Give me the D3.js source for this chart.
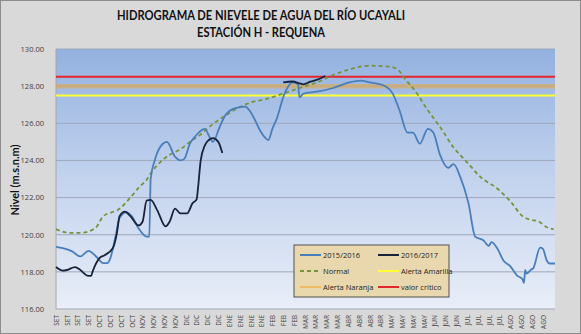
<!DOCTYPE html>
<html><head><meta charset="utf-8">
<script src="https://cdn.jsdelivr.net/npm/d3@7"></script>
<style>body{margin:0;background:#fff}svg{display:block}</style>
</head><body>
<svg id="c" width="581" height="334"></svg>
<script>
// ---- data ----
const tickLabels = ["SET","SET","SET","SET","OCT","OCT","OCT","OCT","NOV","NOV","NOV","NOV","DIC","DIC","DIC","DIC","ENE","ENE","ENE","ENE","FEB","FEB","FEB","MAR","MAR","MAR","MAR","ABR","ABR","ABR","ABR","MAY","MAY","MAY","MAY","JUN","JUN","JUN","JUL","JUL","JUL","JUL","AGO","AGO","AGO","AGO"];
const tickDays = d3.range(0, 361, 8);
const yTicks = [116,118,120,122,124,126,128,130];

const serie2015 = [[0,119.35],[5,119.28],[12,119.1],[18,118.83],[24,119.13],[30,118.8],[35,118.47],[38,118.47],[40,118.7],[44,119.9],[47,120.9],[52,121.2],[56,121.0],[61,120.35],[67,119.9],[69,119.9],[70,123.0],[73,124.0],[79,124.9],[82,125.0],[88,124.2],[92,124.0],[95,124.1],[99,124.9],[103,125.3],[110,125.7],[114,125.2],[116,125.0],[121,125.8],[125,126.4],[132,126.8],[140,126.9],[143,126.7],[147,126.2],[151,125.6],[155,125.2],[157,125.1],[160,125.7],[163,126.2],[169,127.6],[175,128.2],[179,128.1],[180,127.4],[183,127.6],[193,127.7],[205,127.9],[217,128.2],[225,128.3],[232,128.2],[242,128.05],[249,127.6],[254,126.7],[260,125.5],[264,125.5],[269,124.9],[275,125.7],[279,125.5],[284,124.3],[290,123.6],[294,123.8],[299,123.1],[305,121.7],[310,119.9],[316,119.7],[320,119.4],[322,119.6],[326,119.3],[331,118.6],[336,118.3],[341,117.8],[345,117.6],[346,117.4],[347,118.1],[348,117.9],[351,118.1],[353,118.2],[358,119.3],[360,119.25],[363,118.6],[365,118.45],[369,118.45]];
const serie2016a = [[0,118.26],[5,118.07],[8,118.1],[14,118.26],[18,118.1],[23,117.8],[26,117.78],[27,118.0],[32,118.73],[36,118.9],[42,119.27],[45,120.07],[47,121.0],[51,121.24],[55,121.0],[61,120.5],[64,120.7],[67,121.84],[70,121.88],[75,121.3],[81,120.45],[84,120.7],[88,121.4],[92,121.15],[97,121.15],[101,121.7],[104,121.9],[105,122.5],[107,124.0],[110,124.8],[113,125.1],[116,125.2],[120,125.0],[123,124.4]];
const serie2016b = [[168,128.2],[175,128.25],[180,128.15],[183,128.1],[188,128.24],[195,128.4],[199,128.55]];
const normal = [[0,120.3],[10,120.1],[18,120.1],[29,120.35],[35,121.0],[41,121.2],[45,121.3],[55,122.0],[62,122.6],[67,122.95],[70,123.3],[77,123.9],[84,124.3],[92,124.6],[99,125.0],[107,125.4],[115,125.9],[125,126.4],[134,126.8],[143,127.1],[155,127.3],[168,127.6],[180,127.9],[193,128.2],[205,128.6],[217,128.9],[232,129.1],[247,129.05],[254,128.8],[257,128.5],[267,127.6],[274,126.8],[279,126.3],[284,125.8],[294,124.7],[304,123.9],[314,123.1],[326,122.5],[336,121.8],[345,121.0],[351,120.8],[356,120.75],[363,120.4],[368,120.3]];
const alertaAmarilla = 127.5;
const alertaNaranja = 128.0;
const valorCritico = 128.5;

// ---- chart ----
const svg = d3.select("#c");
const W = 581, H = 334;
const L = 56, R = 555, T = 49, B = 309;

svg.append("rect").attr("x",0.5).attr("y",0.5).attr("width",W-1).attr("height",H-1)
  .attr("fill","#d9d9d9").attr("stroke","#8c8c8c");

const defs = svg.append("defs");
const g = defs.append("linearGradient").attr("id","bg").attr("x1",0).attr("y1",0).attr("x2",0).attr("y2",1);
g.append("stop").attr("offset","0%").attr("stop-color","#93b1e0");
g.append("stop").attr("offset","50%").attr("stop-color","#c3d3ee");
g.append("stop").attr("offset","100%").attr("stop-color","#e9eef8");

const x = d3.scaleLinear().domain([0,369]).range([L,R]);
const y = d3.scaleLinear().domain([116,130]).range([B,T]);

svg.append("rect").attr("x",L).attr("y",T).attr("width",R-L).attr("height",B-T).attr("fill","url(#bg)");

// grid
svg.append("g").selectAll("line").data(yTicks).join("line")
  .attr("x1",L).attr("x2",R).attr("y1",d=>y(d)).attr("y2",d=>y(d))
  .attr("stroke","#9ea8ba").attr("stroke-width",1);

// left axis line
svg.append("line").attr("x1",L).attr("x2",L).attr("y1",T).attr("y2",B).attr("stroke","#a6a6a6");

// y axis
const ya = svg.append("g").attr("transform",`translate(${L-9},0)`)
  .call(d3.axisLeft(y).tickValues(yTicks).tickFormat(d3.format(".2f")).tickSize(0));
ya.select(".domain").remove();
ya.selectAll("text").attr("font-family","'Open Sans',sans-serif").attr("font-size",7.5).attr("fill","#404040");

// x axis
const xa = svg.append("g").attr("transform",`translate(0,${B})`)
  .call(d3.axisBottom(x).tickValues(tickDays).tickFormat((d,i)=>tickLabels[i]).tickSize(0));
xa.select(".domain").remove();
xa.selectAll("text").attr("font-family","'Open Sans',sans-serif").attr("font-size",6.5).attr("fill","#404040")
  .attr("text-anchor","end").attr("dy","0.35em").attr("dx",0)
  .attr("transform","translate(0,6) rotate(-90)").attr("x",0).attr("y",0);

// threshold lines
function hline(v, color, w, op){
  svg.append("line").attr("x1",L).attr("x2",R).attr("y1",y(v)).attr("y2",y(v))
    .attr("stroke",color).attr("stroke-width",w).attr("stroke-opacity",op||1);
}
hline(alertaNaranja, "#f0a830", 4.5, 0.5);
hline(alertaAmarilla, "#ffff33", 2);
hline(valorCritico, "#e3262c", 2);

const line = d3.line().x(d=>x(d[0])).y(d=>y(d[1])).curve(d3.curveMonotoneX);
svg.append("path").datum(normal).attr("d",line).attr("fill","none")
  .attr("stroke","#77933c").attr("stroke-width",1.8).attr("stroke-dasharray","4,3");
svg.append("path").datum(serie2015).attr("d",line).attr("fill","none")
  .attr("stroke","#4a7ebb").attr("stroke-width",1.8);
[serie2016a, serie2016b].forEach(s=>{
  svg.append("path").datum(s).attr("d",line).attr("fill","none")
    .attr("stroke","#17233a").attr("stroke-width",1.8);
});

// titles
const tf = "Lato, 'Open Sans', sans-serif";
svg.append("text").attr("x",261).attr("y",20).attr("text-anchor","middle")
  .attr("font-family",tf).attr("font-weight","bold").attr("font-size",13).attr("fill","#111")
  .attr("textLength",288).attr("lengthAdjust","spacingAndGlyphs")
  .text("HIDROGRAMA DE NIEVELE DE AGUA DEL RÍO UCAYALI");
svg.append("text").attr("x",261).attr("y",37).attr("text-anchor","middle")
  .attr("font-family",tf).attr("font-weight","bold").attr("font-size",13).attr("fill","#111")
  .attr("textLength",128).attr("lengthAdjust","spacingAndGlyphs")
  .text("ESTACIÓN H - REQUENA");
svg.append("text").attr("transform","translate(19,180) rotate(-90)").attr("text-anchor","middle")
  .attr("font-family",tf).attr("font-weight","bold").attr("font-size",11).attr("fill","#111")
  .text("Nivel (m.s.n.m)");

// legend
const lg = svg.append("g");
lg.append("rect").attr("x",294).attr("y",245).attr("width",155).attr("height",52)
  .attr("fill","#e9d8ad").attr("stroke","#505050").attr("stroke-width",1);
const items = [
  {t:"2015/2016", c:"#4a7ebb", col:0, row:0},
  {t:"2016/2017", c:"#17233a", col:1, row:0},
  {t:"Normal", c:"#77933c", col:0, row:1, dash:"4,3"},
  {t:"Alerta Amarilla", c:"#ffff33", col:1, row:1},
  {t:"Alerta Naranja", c:"#f0a830", col:0, row:2, op:0.6},
  {t:"valor critico", c:"#e3262c", col:1, row:2}
];
items.forEach(it=>{
  const lx = it.col? 378 : 300, ly = 255 + it.row*16;
  lg.append("line").attr("x1",lx).attr("x2",lx+21).attr("y1",ly).attr("y2",ly)
    .attr("stroke",it.c).attr("stroke-width",2).attr("stroke-dasharray",it.dash||null)
    .attr("stroke-opacity",it.op||1);
  lg.append("text").attr("x",lx+23).attr("y",ly).attr("dy","0.35em")
    .attr("font-family","'Open Sans',sans-serif").attr("font-size",7.5).attr("fill","#222").text(it.t);
});
</script>
</body></html>
